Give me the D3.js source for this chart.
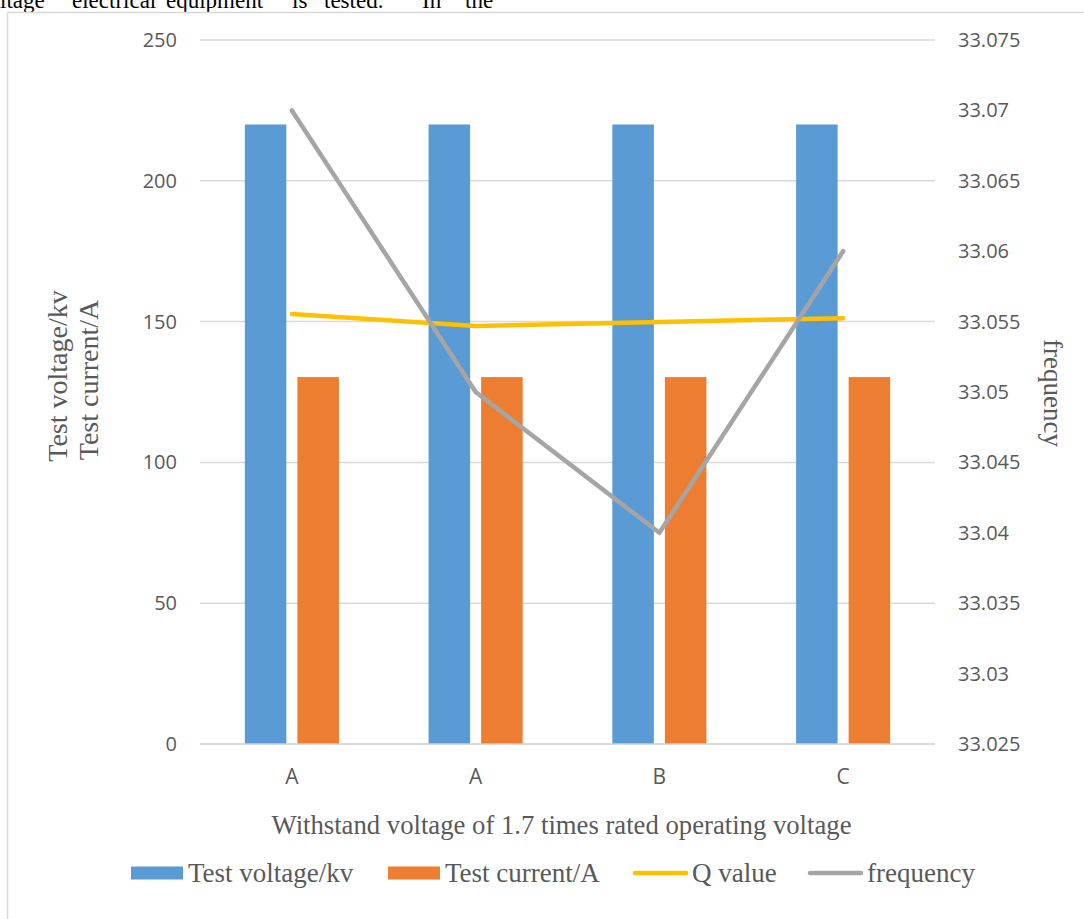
<!DOCTYPE html>
<html>
<head>
<meta charset="utf-8">
<script src="https://cdn.jsdelivr.net/npm/d3@7"></script>
<style>
  html, body { margin: 0; padding: 0; background: #fff; }
  svg { display: block; }
</style>
</head>
<body>
<svg id="chart" width="1084" height="919"></svg>
<script>
// Test groups along the x axis
const categories = ["A", "A", "B", "C"];
// Bar series (left axis)
const testVoltage = [220, 220, 220, 220];
const testCurrent = [130.3, 130.3, 130.3, 130.3];
// Line series
const qValue = [152.7, 148.4, 149.9, 151.2];          // left axis
const frequency = [33.07, 33.05, 33.04, 33.06];       // right axis
// Axis ticks
const leftTicks = [0, 50, 100, 150, 200, 250];
const rightTicks = [33.025, 33.03, 33.035, 33.04, 33.045, 33.05, 33.055, 33.06, 33.065, 33.07, 33.075];

const seriesNames = ["Test voltage/kv", "Test current/A", "Q value", "frequency"];
const colors = { voltage: "#5b9bd5", current: "#ed7d31", q: "#ffc000", freq: "#a5a5a5" };

const serif = "'Liberation Serif', 'Times New Roman', serif";
const sans = "'Open Sans', 'Noto Sans', sans-serif";
const textColor = "#595959";

const svg = d3.select("#chart");

// Running text of the page above the chart frame (cut off at the top)
const para = svg.append("text")
  .attr("y", 8)
  .attr("font-family", serif)
  .attr("font-size", 23)
  .attr("fill", "#000");
const paraWords = ["ltage", "electrical", "equipment", "is", "tested.", "In", "the"];
const paraX = [0, 72, 166, 292, 324, 422, 465];
paraWords.forEach((w, i) => para.append("tspan").attr("x", paraX[i]).text(w));

// Chart frame
svg.append("path")
  .attr("d", "M7.5,919 V12.5 H1084")
  .attr("fill", "none")
  .attr("stroke", "#d9d9d9")
  .attr("stroke-width", 1.5);

const plot = { left: 200, right: 935, top: 40, bottom: 744 };

const x = d3.scaleBand().domain(d3.range(categories.length)).range([plot.left, plot.right]);
const yL = d3.scaleLinear().domain([0, 250]).range([plot.bottom, plot.top]);
const yR = d3.scaleLinear().domain([33.025, 33.075]).range([plot.bottom, plot.top]);

// Gridlines
svg.append("g").selectAll("line")
  .data(leftTicks.filter(d => d > 0))
  .join("line")
  .attr("x1", plot.left).attr("x2", plot.right)
  .attr("y1", d => yL(d)).attr("y2", d => yL(d))
  .attr("stroke", "#d9d9d9").attr("stroke-width", 1.5);

// Left tick labels
svg.append("g").selectAll("text")
  .data(leftTicks)
  .join("text")
  .attr("x", 177)
  .attr("y", d => yL(d))
  .attr("dy", "0.35em")
  .attr("text-anchor", "end")
  .attr("font-family", sans)
  .attr("font-size", 20)
  .attr("fill", textColor)
  .text(d => d);

// Right tick labels
svg.append("g").selectAll("text")
  .data(rightTicks)
  .join("text")
  .attr("x", 958)
  .attr("y", d => yR(d))
  .attr("dy", "0.35em")
  .attr("text-anchor", "start")
  .attr("font-family", sans)
  .attr("font-size", 20)
  .attr("fill", textColor)
  .text(d => String(+d.toFixed(3)));

// Bars
const band = x.bandwidth();
const barW = band * 0.226;
const innerGap = band * 0.06;
const cx = i => x(i) + band / 2;

svg.append("g").selectAll("rect")
  .data(testVoltage)
  .join("rect")
  .attr("x", (d, i) => cx(i) - innerGap / 2 - barW)
  .attr("width", barW)
  .attr("y", d => yL(d))
  .attr("height", d => yL(0) - yL(d))
  .attr("fill", colors.voltage);

svg.append("g").selectAll("rect")
  .data(testCurrent)
  .join("rect")
  .attr("x", (d, i) => cx(i) + innerGap / 2)
  .attr("width", barW)
  .attr("y", d => yL(d))
  .attr("height", d => yL(0) - yL(d))
  .attr("fill", colors.current);

// X axis baseline
svg.append("line")
  .attr("x1", plot.left).attr("x2", plot.right)
  .attr("y1", yL(0)).attr("y2", yL(0))
  .attr("stroke", "#d0d0d0").attr("stroke-width", 1.5);

// Category labels
svg.append("g").selectAll("text")
  .data(categories)
  .join("text")
  .attr("x", (d, i) => cx(i))
  .attr("y", 777)
  .attr("dy", "0.35em")
  .attr("text-anchor", "middle")
  .attr("font-family", sans)
  .attr("font-size", 21)
  .attr("fill", textColor)
  .text(d => d);

// Lines
const qLine = d3.line().x((d, i) => cx(i)).y(d => yL(d));
const fLine = d3.line().x((d, i) => cx(i)).y(d => yR(d));

svg.append("path")
  .datum(qValue)
  .attr("d", qLine)
  .attr("fill", "none")
  .attr("stroke", colors.q)
  .attr("stroke-width", 4.5)
  .attr("stroke-linejoin", "round")
  .attr("stroke-linecap", "round");

svg.append("path")
  .datum(frequency)
  .attr("d", fLine)
  .attr("fill", "none")
  .attr("stroke", colors.freq)
  .attr("stroke-width", 4.5)
  .attr("stroke-linejoin", "round")
  .attr("stroke-linecap", "round");

// Axis titles
svg.append("text")
  .attr("transform", "translate(67,376) rotate(-90)")
  .attr("text-anchor", "middle")
  .attr("font-family", serif)
  .attr("font-size", 28)
  .attr("fill", textColor)
  .text(seriesNames[0]);
svg.append("text")
  .attr("transform", "translate(98,380) rotate(-90)")
  .attr("text-anchor", "middle")
  .attr("font-family", serif)
  .attr("font-size", 28)
  .attr("fill", textColor)
  .text(seriesNames[1]);

svg.append("text")
  .attr("transform", "translate(1044,393) rotate(90)")
  .attr("text-anchor", "middle")
  .attr("font-family", serif)
  .attr("font-size", 27)
  .attr("fill", textColor)
  .text("frequency");

svg.append("text")
  .attr("x", (plot.left + plot.right) / 2 - 6)
  .attr("y", 834)
  .attr("text-anchor", "middle")
  .attr("font-family", serif)
  .attr("font-size", 26.7)
  .attr("fill", textColor)
  .text("Withstand voltage of 1.7 times rated operating voltage");

// Legend
const legendY = 873;
const legend = svg.append("g");
const legendItems = [
  { name: seriesNames[0], type: "rect", color: colors.voltage, x: 131 },
  { name: seriesNames[1], type: "rect", color: colors.current, x: 388 },
  { name: seriesNames[2], type: "line", color: colors.q, x: 633 },
  { name: seriesNames[3], type: "line", color: colors.freq, x: 808 }
];
legendItems.forEach(it => {
  if (it.type === "rect") {
    legend.append("rect")
      .attr("x", it.x).attr("y", legendY - 6.5)
      .attr("width", 52).attr("height", 13)
      .attr("fill", it.color);
    legend.append("text")
      .attr("x", it.x + 57).attr("y", legendY + 9)
      .attr("font-family", serif).attr("font-size", 27)
      .attr("fill", textColor).text(it.name);
  } else {
    legend.append("line")
      .attr("x1", it.x + 2).attr("x2", it.x + 53)
      .attr("y1", legendY).attr("y2", legendY)
      .attr("stroke", it.color).attr("stroke-width", 4.5)
      .attr("stroke-linecap", "round");
    legend.append("text")
      .attr("x", it.x + 59).attr("y", legendY + 9)
      .attr("font-family", serif).attr("font-size", 27)
      .attr("fill", textColor).text(it.name);
  }
});
</script>
</body>
</html>
